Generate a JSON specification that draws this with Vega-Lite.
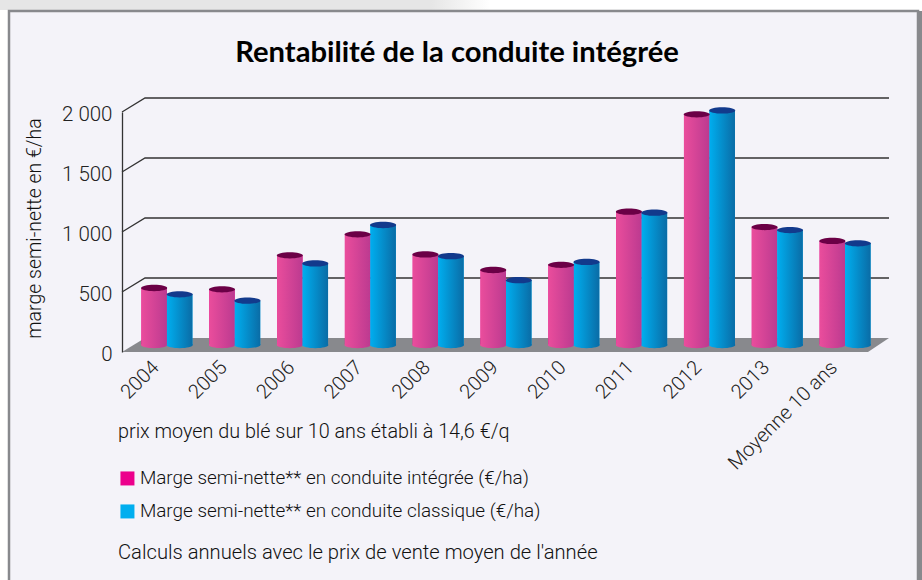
{
"$schema":"https://vega.github.io/schema/vega-lite/v6.json",
"width":746,"height":240,
"autosize":"none",
"padding":{"left":122,"top":112,"right":54,"bottom":228},
"background":"#ffffff",
"config":{"view":{"stroke":null}},
"datasets":{
"marges":[
{"annee":"2004","conduite":"Marge semi-nette** en conduite intégrée (€/ha)","marge":475},
{"annee":"2004","conduite":"Marge semi-nette** en conduite classique (€/ha)","marge":422},
{"annee":"2005","conduite":"Marge semi-nette** en conduite intégrée (€/ha)","marge":464},
{"annee":"2005","conduite":"Marge semi-nette** en conduite classique (€/ha)","marge":369},
{"annee":"2006","conduite":"Marge semi-nette** en conduite intégrée (€/ha)","marge":747},
{"annee":"2006","conduite":"Marge semi-nette** en conduite classique (€/ha)","marge":680},
{"annee":"2007","conduite":"Marge semi-nette** en conduite intégrée (€/ha)","marge":922},
{"annee":"2007","conduite":"Marge semi-nette** en conduite classique (€/ha)","marge":1000},
{"annee":"2008","conduite":"Marge semi-nette** en conduite intégrée (€/ha)","marge":755},
{"annee":"2008","conduite":"Marge semi-nette** en conduite classique (€/ha)","marge":740},
{"annee":"2009","conduite":"Marge semi-nette** en conduite intégrée (€/ha)","marge":625},
{"annee":"2009","conduite":"Marge semi-nette** en conduite classique (€/ha)","marge":540},
{"annee":"2010","conduite":"Marge semi-nette** en conduite intégrée (€/ha)","marge":668},
{"annee":"2010","conduite":"Marge semi-nette** en conduite classique (€/ha)","marge":692},
{"annee":"2011","conduite":"Marge semi-nette** en conduite intégrée (€/ha)","marge":1111},
{"annee":"2011","conduite":"Marge semi-nette** en conduite classique (€/ha)","marge":1103},
{"annee":"2012","conduite":"Marge semi-nette** en conduite intégrée (€/ha)","marge":1922},
{"annee":"2012","conduite":"Marge semi-nette** en conduite classique (€/ha)","marge":1955},
{"annee":"2013","conduite":"Marge semi-nette** en conduite intégrée (€/ha)","marge":983},
{"annee":"2013","conduite":"Marge semi-nette** en conduite classique (€/ha)","marge":958},
{"annee":"Moyenne 10 ans","conduite":"Marge semi-nette** en conduite intégrée (€/ha)","marge":867},
{"annee":"Moyenne 10 ans","conduite":"Marge semi-nette** en conduite classique (€/ha)","marge":847}
],
"sol":[
{"u":0,"haut":0,"bas":0},
{"u":23,"haut":116.67,"bas":0},
{"u":746,"haut":116.67,"bas":0},
{"u":767,"haut":116.67,"bas":116.67}
],
"grille":[
{"niveau":500,"u":0,"v":500},{"niveau":500,"u":23,"v":616.67},{"niveau":500,"u":767,"v":616.67},
{"niveau":1000,"u":0,"v":1000},{"niveau":1000,"u":23,"v":1116.67},{"niveau":1000,"u":767,"v":1116.67},
{"niveau":1500,"u":0,"v":1500},{"niveau":1500,"u":23,"v":1616.67},{"niveau":1500,"u":767,"v":1616.67},
{"niveau":2000,"u":0,"v":2000},{"niveau":2000,"u":23,"v":2116.67},{"niveau":2000,"u":767,"v":2116.67}
]
},
"resolve":{"scale":{"x":"independent"}},
"layer":[
{
"encoding":{},
"layer":[
{"data":{"values":[{"cadre":"ombre"}]},
 "mark":{"type":"rect","clip":false,"fill":{"x1":0,"y1":0,"x2":1,"y2":0,"gradient":"linear","stops":[{"offset":0,"color":"#e6e6e6"},{"offset":0.88,"color":"#e6e6e6"},{"offset":1,"color":"#ffffff"}]}},
 "encoding":{
  "x":{"datum":-122,"type":"quantitative","scale":{"domain":[0,746]},"axis":null},
  "x2":{"datum":368},
  "y":{"datum":2934,"type":"quantitative"},
  "y2":{"datum":2850}}},
{"data":{"values":[{"cadre":"bord droit"}]},
 "mark":{"type":"rect","fill":"#88898d","clip":false},
 "encoding":{
  "x":{"datum":795,"type":"quantitative","scale":{"domain":[0,746]},"axis":null},
  "x2":{"datum":812},
  "y":{"datum":2842,"type":"quantitative"},
  "y2":{"datum":-2100}}},
{"data":{"values":[{"cadre":"panneau"}]},
 "mark":{"type":"rect","fill":"#f4f3f9","stroke":"#88898d","strokeWidth":2.5,"clip":false},
 "encoding":{
  "x":{"datum":-113,"type":"quantitative","scale":{"domain":[0,746]},"axis":null},
  "x2":{"datum":796},
  "y":{"datum":2842,"type":"quantitative"},
  "y2":{"datum":-2100}}},
{"data":{"name":"sol"},
 "mark":{"type":"area","fill":"#88898d","clip":false},
 "encoding":{
  "x":{"field":"u","type":"quantitative","scale":{"domain":[0,746]},"axis":null},
  "y":{"field":"haut","type":"quantitative"},
  "y2":{"field":"bas"}}},
{"data":{"name":"grille"},
 "mark":{"type":"line","stroke":"#333333","strokeWidth":1.3,"clip":false},
 "encoding":{
  "x":{"field":"u","type":"quantitative","scale":{"domain":[0,746]},"axis":null},
  "y":{"field":"v","type":"quantitative","scale":{"domain":[0,2000],"nice":false},
   "axis":{"values":[0,500,1000,1500,2000],"zindex":1,"grid":false,"ticks":false,"domainColor":"#333333","domainWidth":1.3,
    "labelExpr":"replace(format(datum.value, ','), ',', ' ')","labelFont":"Roboto","labelFontWeight":300,"labelFontSize":20.5,"labelColor":"#222222","labelPadding":10,"labelOffset":2,
    "title":"marge semi-nette en €/ha","titleFont":"Roboto","titleFontWeight":300,"titleFontSize":19.5,"titleColor":"#111111","titlePadding":17,"titleY":116}},
  "detail":{"field":"niveau"}}},
{"data":{"values":[{"titre":"Rentabilité de la conduite intégrée"}]},
 "mark":{"type":"text","align":"center","baseline":"middle","font":"Lato","fontWeight":"bold","fontSize":29.2,"color":"#000000"},
 "encoding":{
  "x":{"datum":335,"type":"quantitative","scale":{"domain":[0,746]},"axis":null},
  "y":{"datum":2492,"type":"quantitative"},
  "text":{"field":"titre"}}},
{"data":{"values":[{"note":"prix moyen du blé sur 10 ans établi à 14,6 €/q"}]},
 "mark":{"type":"text","align":"left","baseline":"middle","font":"Roboto","fontWeight":300,"fontSize":19.8,"color":"#111111"},
 "encoding":{
  "x":{"datum":-4,"type":"quantitative","scale":{"domain":[0,746]},"axis":null},
  "y":{"datum":-665,"type":"quantitative"},
  "text":{"field":"note"}}},
{"data":{"values":[{"note":"Calculs annuels avec le prix de vente moyen de l'année"}]},
 "mark":{"type":"text","align":"left","baseline":"middle","font":"Roboto","fontWeight":300,"fontSize":20.2,"color":"#111111"},
 "encoding":{
  "x":{"datum":-4,"type":"quantitative","scale":{"domain":[0,746]},"axis":null},
  "y":{"datum":-1675,"type":"quantitative"},
  "text":{"field":"note"}}}
]
},
{
"data":{"name":"marges"},
"encoding":{
 "x":{"field":"annee","type":"nominal","scale":{"range":[11,757],"paddingInner":0.248,"paddingOuter":0.124},
  "axis":{"title":null,"domain":false,"ticks":false,"zindex":1,"labelAngle":-45,"labelAlign":"right","labelBaseline":"middle","labelFont":"Roboto","labelFontWeight":300,"labelFontSize":20,"labelColor":"#222222","labelPadding":12,"labelOffset":-11,"labelOverlap":false,"labelLimit":300}},
 "xOffset":{"field":"conduite","type":"nominal","scale":{"domain":["Marge semi-nette** en conduite intégrée (€/ha)","Marge semi-nette** en conduite classique (€/ha)"],"paddingInner":0,"paddingOuter":0}}
},
"layer":[
{"mark":{"type":"bar","yOffset":-7,"y2Offset":-7},
 "encoding":{
  "y":{"field":"marge","type":"quantitative"},
  "color":{"field":"conduite","type":"nominal","scale":{"domain":["Marge semi-nette** en conduite intégrée (€/ha)","Marge semi-nette** en conduite classique (€/ha)"],"range":["#ec008c","#00aeef"]},
   "legend":{"title":null,"orient":"none","legendX":-4,"legendY":357,"symbolType":"square","symbolSize":196,"symbolStrokeWidth":0,"rowPadding":13,"labelFont":"Roboto","labelFontWeight":300,"labelFontSize":18.9,"labelColor":"#111111","labelLimit":500,"labelOffset":3}}}},
{"transform":[{"filter":"indexof(datum.conduite,'intégrée')>=0"}],
 "mark":{"type":"point","filled":true,"opacity":1,"size":680,"yOffset":-7,"shape":"M-1,0A1,0.24 0 1 1 1,0A1,0.24 0 1 1 -1,0Z","fill":{"x1":0,"y1":0,"x2":1,"y2":0,"gradient":"linear","stops":[{"offset":0,"color":"#ea4d9c"},{"offset":1,"color":"#bc3a90"}]}},
 "encoding":{"y":{"datum":0,"type":"quantitative"}}},
{"transform":[{"filter":"indexof(datum.conduite,'classique')>=0"}],
 "mark":{"type":"point","filled":true,"opacity":1,"size":680,"yOffset":-7,"shape":"M-1,0A1,0.24 0 1 1 1,0A1,0.24 0 1 1 -1,0Z","fill":{"x1":0,"y1":0,"x2":1,"y2":0,"gradient":"linear","stops":[{"offset":0,"color":"#00aeef"},{"offset":1,"color":"#0a6ca6"}]}},
 "encoding":{"y":{"datum":0,"type":"quantitative"}}},
{"transform":[{"filter":"indexof(datum.conduite,'intégrée')>=0"}],
 "mark":{"type":"bar","yOffset":-7,"y2Offset":-7,"fill":{"x1":0,"y1":0,"x2":1,"y2":0,"gradient":"linear","stops":[{"offset":0,"color":"#ea4d9c"},{"offset":1,"color":"#bc3a90"}]}},
 "encoding":{"y":{"field":"marge","type":"quantitative"}}},
{"transform":[{"filter":"indexof(datum.conduite,'classique')>=0"}],
 "mark":{"type":"bar","yOffset":-7,"y2Offset":-7,"fill":{"x1":0,"y1":0,"x2":1,"y2":0,"gradient":"linear","stops":[{"offset":0,"color":"#00aeef"},{"offset":1,"color":"#0a6ca6"}]}},
 "encoding":{"y":{"field":"marge","type":"quantitative"}}},
{"transform":[{"filter":"indexof(datum.conduite,'intégrée')>=0"}],
 "mark":{"type":"point","filled":true,"opacity":1,"size":680,"yOffset":-7,"shape":"M-1,0A1,0.24 0 1 1 1,0A1,0.24 0 1 1 -1,0Z","fill":"#6b0046"},
 "encoding":{"y":{"field":"marge","type":"quantitative"}}},
{"transform":[{"filter":"indexof(datum.conduite,'classique')>=0"}],
 "mark":{"type":"point","filled":true,"opacity":1,"size":680,"yOffset":-7,"shape":"M-1,0A1,0.24 0 1 1 1,0A1,0.24 0 1 1 -1,0Z","fill":"#123a8c"},
 "encoding":{"y":{"field":"marge","type":"quantitative"}}}
]
}
]
}
